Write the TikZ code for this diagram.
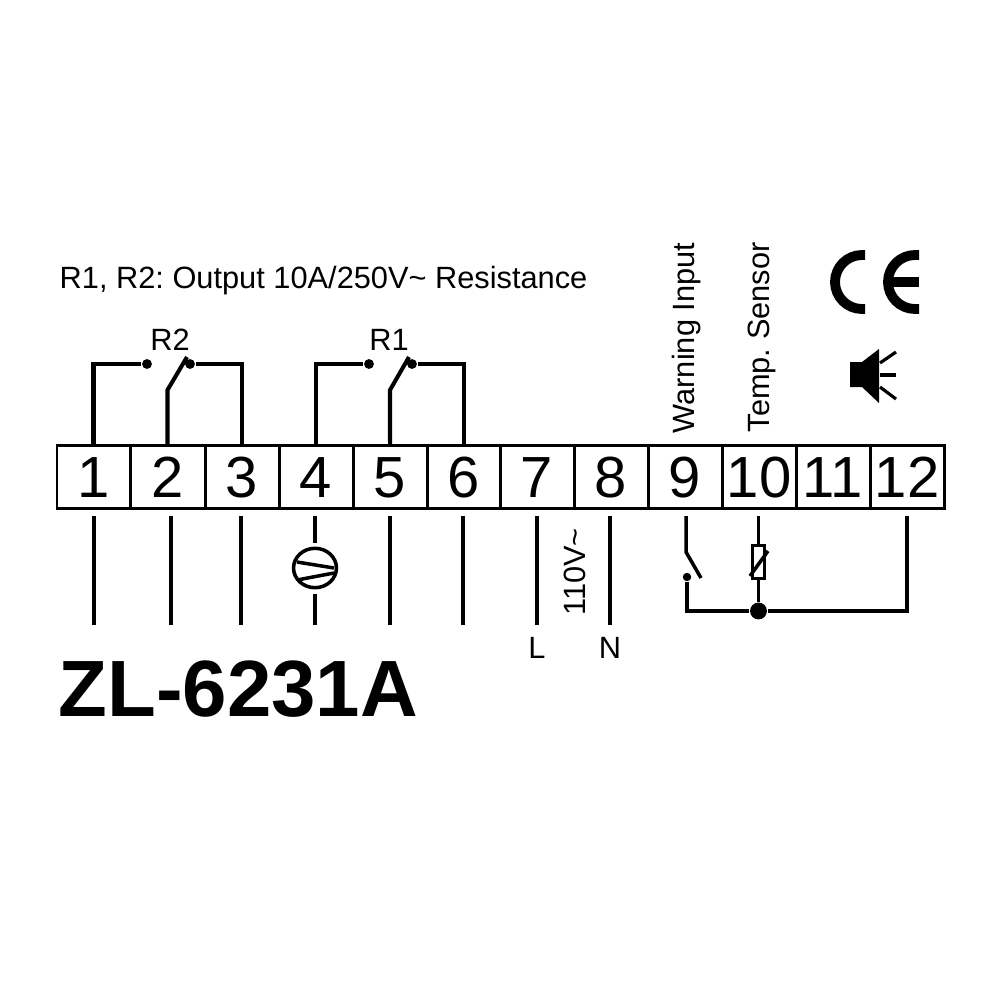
\documentclass[tikz,border=0pt]{standalone}
\usepackage{fontspec}
\setmainfont{Liberation Sans}
\usetikzlibrary{calc,shapes.geometric}
\tikzset{
	wire/.style={line width=1.15pt},
	thin wire/.style={line width=1pt},
	terminal/.style={draw, line width=0.85pt, inner sep=0pt, outer sep=0pt, text height=11.8pt, text depth=0pt, font=\fontsize{16.5}{17}\selectfont},
	dot/.style={circle, fill=black, inner sep=0pt, minimum size=2.8pt},
	caption/.style={font=\fontsize{8.75}{10}\selectfont\frenchspacing, inner sep=0pt},
}
\begin{document}
\begin{tikzpicture}[x=0.01cm, y=-0.01cm]
	\useasboundingbox (0, 0) rectangle (1000, 1000);
	
	%%%%% TERMINALS %%%%%
	\foreach \n/\x/\w in {1/57/73, 2/130/75, 3/205/74, 4/279/74, 5/353/74, 6/427/73, 7/500/74, 8/574/74, 9/648/74, 10/722/74, 11/796/74, 12/870/74}
		\node[terminal, anchor=north west, minimum width=\w*0.2845pt, minimum height=63*0.2845pt] (t\n) at (\x, 445) {\n};
	
	%%%%% RELAYS %%%%%
	\node[dot] (r2a) at (147, 364) {};
	\node[dot] (r2b) at (190, 364) {};
	\coordinate (r2c) at (167.5, 390);
	\coordinate (r2d) at (187, 357);
	\draw[wire] (t1.north) |- (r2a);
	\draw[wire] (t2.north) -- (r2c) -- (r2d);
	\draw[wire] (r2b) -| (t3.north);
	\node[caption] (r2) at (170, 340) {R2};
	
	\node[dot] (r1a) at (369, 364) {};
	\node[dot] (r1b) at (412, 364) {};
	\coordinate (r1c) at (390, 390);
	\coordinate (r1d) at (409, 357);
	\draw[wire] (t4.north) |- (r1a);
	\draw[wire] (t5.north) -- (r1c) -- (r1d);
	\draw[wire] (r1b) -| (t6.north);
	\node[caption] (r1) at (389, 340) {R1};
	
	%%%%% LOADS %%%%%
	\draw[thin wire] (94, 516) -- (94, 625);
	\draw[thin wire] (171, 516) -- (171, 625);
	\draw[thin wire] (241, 516) -- (241, 625);
	\draw[thin wire] (390, 516) -- (390, 625);
	\draw[thin wire] (463, 516) -- (463, 625);
	
	\node[draw, ellipse, line width=1pt, minimum width=12.2pt, minimum height=11.2pt, inner sep=0pt] (motor) at (315, 568) {};
	\draw[thin wire] (315, 516) -- (315, 543);
	\draw[thin wire] (315, 594) -- (315, 625);
	\draw[thin wire] (297, 562) -- (334, 568);
	\draw[thin wire] (297, 580) -- (334, 573);
	
	\draw[thin wire] (537, 516) -- (537, 625);
	\draw[thin wire] (610, 516) -- (610, 625);
	\node[caption] (lineL) at (537, 648) {L};
	\node[caption] (lineN) at (610, 648) {N};
	\node[caption, rotate=90] (volt) at (575, 572) {110V\char`~};
	
	%%%%% INPUTS %%%%%
	\node[dot, minimum size=2.4pt] (sw) at (687, 577) {};
	\node[dot, minimum size=4.8pt] (joint) at (758.5, 611) {};
	\node[draw, line width=0.8pt, minimum width=3.6pt, minimum height=9.2pt, inner sep=0pt] (ntc) at (758.5, 562) {};
	\coordinate (swa) at (686, 552);
	\coordinate (swb) at (701, 578);
	\coordinate (t12a) at (907, 516);
	\coordinate (ntca) at (758.5, 516);
	\draw[thin wire] (686, 516) -- (swa) -- (swb);
	\draw[thin wire] (sw) |- (joint) -- (ntc);
	\draw[thin wire] (joint) -| (t12a);
	\draw[thin wire] (ntca) -- (ntc);
	\draw[thin wire] (750, 576) -- (768, 551);
	
	\node[caption, rotate=90, anchor=west] (warn) at (687, 434) {Warning Input};
	\node[caption, rotate=90, anchor=west] (temp) at (762, 433) {Temp. Sensor};
	
	%%%%% CE AND SPEAKER %%%%%
	\draw[line width=2.8pt] (865, 255) -- (862, 255) arc (270:90:27) -- (865, 309);
	\draw[line width=2.8pt] (919, 255) -- (915, 255) arc (270:90:27) -- (919, 309);
	\draw[line width=2.6pt] (885, 282) -- (919, 282);
	
	\fill (850, 362) -- (862, 362) -- (879, 349) -- (879, 403) -- (862, 387) -- (850, 387) -- cycle;
	\draw[line width=0.9pt] (880, 363) -- (896, 352);
	\draw[line width=0.9pt] (880, 375) -- (896, 375);
	\draw[line width=0.9pt] (880, 387) -- (896, 399);
	
	%%%%% TEXT %%%%%
	\node[caption, anchor=west] (note) at (59, 281) {R1, R2: Output 10A/250V\char`~\ Resistance};
	\node[anchor=west, inner sep=0pt, font=\fontsize{22.7}{24}\bfseries\selectfont] (model) at (58, 689) {ZL-6231A};
\end{tikzpicture}
\end{document}
